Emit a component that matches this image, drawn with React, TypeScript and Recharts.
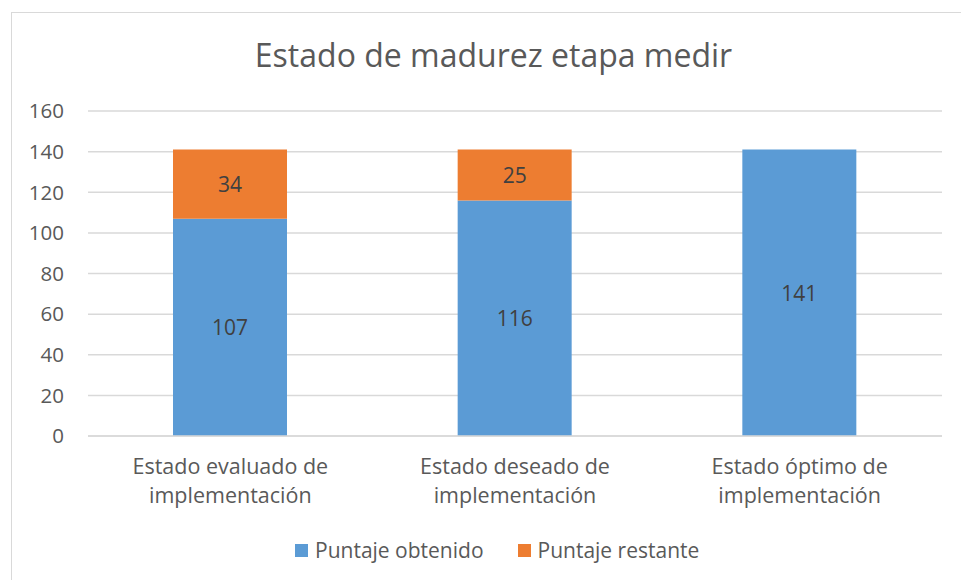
import React from 'react';
import { BarChart, Bar, XAxis, YAxis, CartesianGrid, LabelList } from 'recharts';

const categories = [
  'Estado evaluado de implementación',
  'Estado deseado de implementación',
  'Estado óptimo de implementación',
];
const obtenido = [107, 116, 141];
const restante = [34, 25, 0];
const yTicks = [0, 20, 40, 60, 80, 100, 120, 140, 160];
const seriesNames = ['Puntaje obtenido', 'Puntaje restante'];
const colors = ['#5B9BD5', '#ED7D31'];
const title = 'Estado de madurez etapa medir';

const data = categories.map((c, i) => ({ name: c, obtenido: obtenido[i], restante: restante[i] }));

const FONT = '"Open Sans", "Noto Sans", sans-serif';
const TXT = '#595959';

const CatTick = (props: any) => {
  const { x, y, payload } = props;
  const s: string = payload.value;
  const idx = s.lastIndexOf(' ');
  const l1 = s.slice(0, idx);
  const l2 = s.slice(idx + 1);
  return (
    <text x={x} y={y} textAnchor="middle" fill={TXT} fontSize={21.5} fontFamily={FONT}>
      <tspan x={x} dy={38}>{l1}</tspan>
      <tspan x={x} dy={29}>{l2}</tspan>
    </text>
  );
};

const ValueLabel = (props: any) => {
  const { x, y, width, height, value } = props;
  if (!value) return null;
  return (
    <text
      x={x + width / 2}
      y={y + height / 2}
      textAnchor="middle"
      dominantBaseline="central"
      fill="#404040"
      fontSize={21}
      fontFamily={FONT}
    >
      {value}
    </text>
  );
};

export default function App() {
  return (
    <div style={{ position: 'absolute', left: 0, top: 0, width: 961, height: 580, overflow: 'hidden', background: '#fff' }}>
      <div
        style={{
          position: 'absolute',
          left: 11,
          top: 12,
          width: 1000,
          height: 700,
          border: '1px solid #D9D9D9',
          boxSizing: 'border-box',
        }}
      />
      <div
        style={{
          position: 'absolute',
          left: 0,
          top: 33,
          width: 987,
          textAlign: 'center',
          fontFamily: FONT,
          fontSize: 32,
          color: TXT,
          lineHeight: '44px',
        }}
      >
        {title}
      </div>
      <div style={{ position: 'absolute', left: 0, top: 0 }}>
        <BarChart width={961} height={580} data={data} margin={{ top: 111, right: 19, bottom: 114, left: 28 }}>
          <CartesianGrid vertical={false} stroke="#D9D9D9" strokeWidth={1.5} />
          <XAxis
            dataKey="name"
            height={30}
            axisLine={{ stroke: '#D9D9D9', strokeWidth: 1.5 }}
            tickLine={false}
            tickSize={0}
            tickMargin={0}
            tick={<CatTick />}
            interval={0}
          />
          <YAxis
            width={60}
            domain={[0, 160]}
            ticks={yTicks}
            axisLine={false}
            tickLine={false}
            tickSize={0}
            tickMargin={24}
            tick={{ fill: TXT, fontSize: 20.5, fontFamily: FONT }}
          />
          <Bar dataKey="obtenido" name={seriesNames[0]} stackId="a" fill={colors[0]} barSize={114} isAnimationActive={false}>
            <LabelList dataKey="obtenido" content={<ValueLabel />} />
          </Bar>
          <Bar dataKey="restante" name={seriesNames[1]} stackId="a" fill={colors[1]} barSize={114} isAnimationActive={false}>
            <LabelList dataKey="restante" content={<ValueLabel />} />
          </Bar>
        </BarChart>
      </div>
      <div
        style={{
          position: 'absolute',
          left: 295,
          top: 536,
          display: 'flex',
          alignItems: 'center',
          fontFamily: FONT,
          fontSize: 21,
          color: TXT,
          whiteSpace: 'nowrap',
        }}
      >
        {seriesNames.map((n, i) => (
          <div key={n} style={{ display: 'flex', alignItems: 'center', marginRight: i === 0 ? 34 : 0 }}>
            <span style={{ display: 'inline-block', width: 13, height: 13, background: colors[i], marginRight: 7 }} />
            <span style={{ lineHeight: '28px' }}>{n}</span>
          </div>
        ))}
      </div>
    </div>
  );
}
